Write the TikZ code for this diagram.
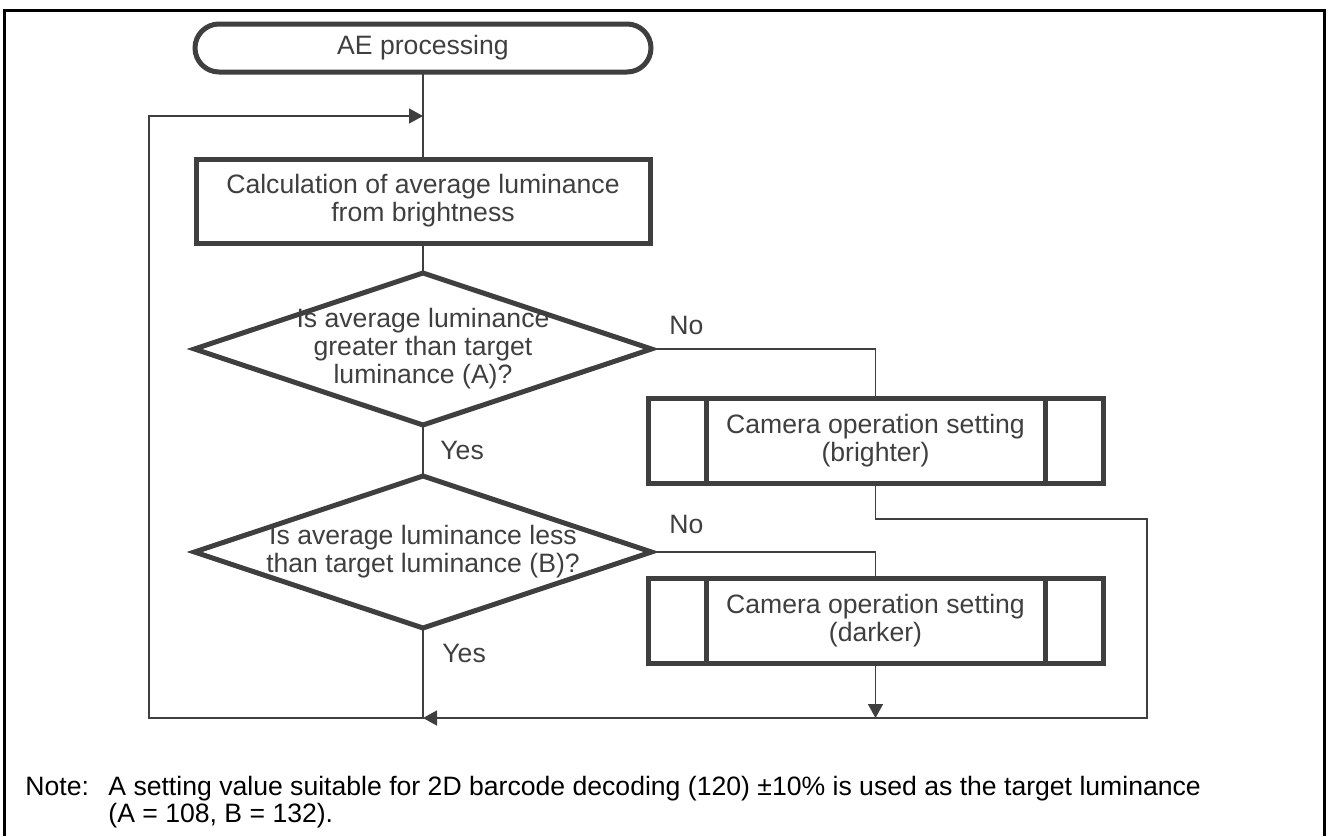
\documentclass[tikz,border=0pt]{standalone}
\usepackage{fontspec}
\setmainfont{Liberation Sans}
\usetikzlibrary{shapes.geometric, arrows.meta}
\definecolor{dunkelgrau}{HTML}{3F3F3F}
\tikzset{
    ablauf/.style = {draw = dunkelgrau, line width = 2.5pt, text = dunkelgrau,
        align = center, outer sep = 0pt},
    terminal/.style = {ablauf, rectangle, rounded corners = 12pt,
        minimum width = 228pt, minimum height = 24pt},
    prozess/.style = {ablauf, rectangle, minimum width = 227pt, minimum height = 42pt},
    entscheidung/.style = {ablauf, diamond, aspect = 3, inner sep = -6pt,
        minimum width = 228.5pt, minimum height = 76pt},
    unterprogramm/.style = {ablauf, rectangle, minimum width = 227.5pt, minimum height = 42.5pt},
    linie/.style = {draw = dunkelgrau, line width = 0.75pt},
    pfeil/.style = {linie, -{Triangle[length = 7pt, width = 7.5pt]}},
    beschriftung/.style = {text = dunkelgrau, inner sep = 0pt},
    notiz/.style = {anchor = base west, inner sep = 0pt}
}
\begin{document}
\begin{tikzpicture}[x = 0.5pt, y = -0.5pt,
        every node/.style = {font = \fontsize{13.3}{14}\selectfont}]
        \useasboundingbox (0, 0) rectangle (1328, 836);

        % Rahmen
        \draw [line width = 1.5pt, line join = miter] (4, 836) -- (4, 10) -- (1324, 10) -- (1324, 836);

        % Ablauf
        \node [terminal] (start) at (423, 48) {AE processing};
        \node [prozess] (mittelwert) at (423, 201) {Calculation of average luminance\\from brightness};
        \node [entscheidung] (frageA) at (423, 349) {Is average luminance\\greater than target\\luminance (A)?};
        \node [entscheidung] (frageB) at (423, 552) {Is average luminance less\\than target luminance (B)?};
        \node [unterprogramm] (heller) at (875.5, 440.5) {Camera operation setting\\(brighter)};
        \node [unterprogramm] (dunkler) at (875.5, 620.5) {Camera operation setting\\(darker)};
        \foreach \n in {heller, dunkler} {
            \draw [ablauf] ([xshift = 29pt] \n.north west) -- ([xshift = 29pt] \n.south west);
            \draw [ablauf] ([xshift = -29pt] \n.north east) -- ([xshift = -29pt] \n.south east);
        }

        % Hilfspunkte
        \coordinate (eintritt) at (423, 116);
        \coordinate (sammel) at (423, 718);
        \coordinate (links) at (149, 718);
        \coordinate (knick) at (1147, 519);
        \coordinate (rechts) at (1147, 718);

        % Verbindungen
        \draw [linie] (start) -- (mittelwert);
        \draw [linie] (mittelwert) -- (frageA);
        \draw [linie] (frageA) -- (frageB);
        \draw [linie] (frageA.east) -| (heller.north);
        \draw [linie] (frageB.east) -| (dunkler.north);
        \draw [pfeil] (frageB.south) -- (sammel) -- (links) |- (eintritt);
        \draw [pfeil] (heller.south) |- (knick) -- (rechts) -- (sammel);
        \draw [pfeil] (dunkler.south) -- (dunkler.south |- sammel);

        % Beschriftungen
        \node [beschriftung, anchor = west] (neinA) at (669, 325) {No};
        \node [beschriftung, anchor = west] (jaA) at (440, 450) {Yes};
        \node [beschriftung, anchor = west] (neinB) at (669, 524) {No};
        \node [beschriftung, anchor = west] (jaB) at (442, 653) {Yes};

        % Hinweis
        \node [notiz] (hinweis) at (25, 795) {Note:};
        \node [notiz] (hinweistext) at (108, 795) {A setting value suitable for 2D barcode decoding (120) ±10\% is used as the target luminance};
        \node [notiz] (hinweiszeile) at (108, 822) {(A = 108, B = 132).};
    \end{tikzpicture}
\end{document}
